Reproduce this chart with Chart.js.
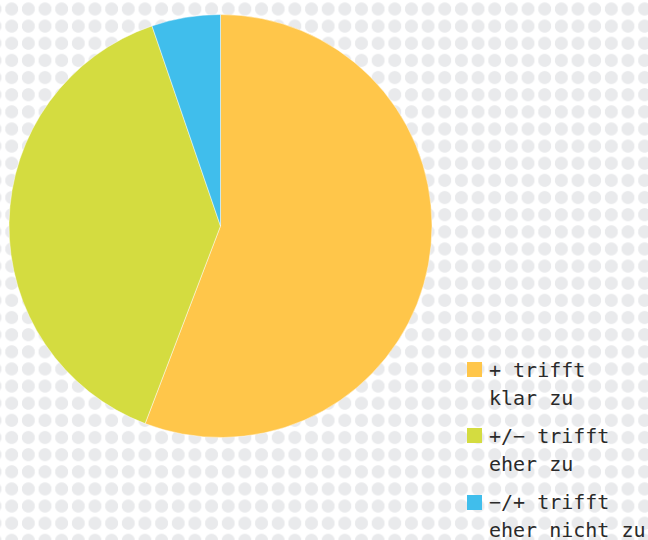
<!DOCTYPE html>
<html>
<head>
<meta charset="utf-8">
<script src="https://cdn.jsdelivr.net/npm/chart.js@4"></script>
<style>
  html, body { margin: 0; padding: 0; }
  body {
    width: 648px; height: 540px; overflow: hidden; position: relative;
    background-color: #ffffff;
    background-image: radial-gradient(circle at center, #e9eaec 0, #e9eaec 6.1px, rgba(233,234,236,0) 6.9px);
    background-size: 16.67px 17.15px;
    background-position: 3.37px 0.43px;
  }
  #wrap { position: absolute; left: 8px; top: 14px; width: 425px; height: 424px; }
  #legend { position: absolute; left: 467px; top: 355.6px; margin: 0; padding: 0; list-style: none;
    font-family: "DejaVu Sans Mono", "Liberation Mono", monospace; font-size: 20px; line-height: 28.3px; color: #2a2a2a; }
  #legend li { display: flex; align-items: flex-start; margin: 0 0 9.6px 0; white-space: pre; }
  #legend .box { width: 15px; height: 15px; margin-top: 6.7px; margin-right: 7px; flex: none; }
</style>
</head>
<body>
<div id="wrap"><canvas id="c" width="425" height="424"></canvas></div>
<ul id="legend"></ul>
<script>
const categories = [
  ['+ trifft', 'klar zu'],
  ['+/\u2212 trifft', 'eher zu'],
  ['\u2212/+ trifft', 'eher nicht zu']
];
const shares = [55.8, 38.95, 5.25];
const sliceColors = ['#FFC64A', '#D4DC40', '#40BEEC'];

const htmlLegend = {
  id: 'htmlLegend',
  afterUpdate(chart) {
    const ul = document.getElementById('legend');
    ul.innerHTML = '';
    const items = chart.options.plugins.legend.labels.generateLabels(chart);
    items.forEach(item => {
      const li = document.createElement('li');
      const box = document.createElement('span');
      box.className = 'box';
      box.style.background = item.fillStyle;
      const txt = document.createElement('div');
      const lines = Array.isArray(item.text) ? item.text : [item.text];
      lines.forEach(l => { const d = document.createElement('div'); d.textContent = l; txt.appendChild(d); });
      li.appendChild(box); li.appendChild(txt);
      ul.appendChild(li);
    });
  }
};

new Chart(document.getElementById('c'), {
  type: 'pie',
  data: {
    labels: categories,
    datasets: [{
      data: shares,
      backgroundColor: sliceColors,
      borderColor: 'rgba(255,255,255,0.45)',
      borderWidth: 1
    }]
  },
  options: {
    responsive: false,
    animation: false,
    layout: { padding: 0 },
    plugins: {
      legend: { display: false },
      tooltip: { enabled: false }
    }
  },
  plugins: [htmlLegend]
});
</script>
</body>
</html>
